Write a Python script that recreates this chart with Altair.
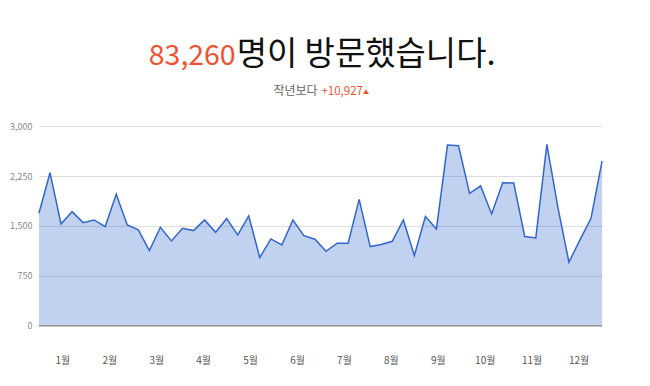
import altair as alt
import pandas as pd

visits = [1690, 2300, 1530, 1715, 1550, 1590, 1490, 1975, 1515, 1440,
          1130, 1480, 1275, 1465, 1430, 1590, 1405, 1610, 1365, 1650,
          1025, 1305, 1215, 1590, 1355, 1300, 1120, 1240, 1240, 1900,
          1190, 1220, 1270, 1590, 1055, 1640, 1455, 2715, 2705, 1990,
          2100, 1680, 2150, 2145, 1340, 1320, 2725, 1780, 955, 1290,
          1615, 2475]
months = ["1월", "2월", "3월", "4월", "5월", "6월", "7월", "8월", "9월", "10월", "11월", "12월"]
y_ticks = [0, 750, 1500, 2250, 3000]
total_text = "83,260"
title_rest = "명이 방문했습니다."
sub_label = "작년보다"
sub_delta = "+10,927"

FONT = "Noto Sans CJK KR"
RED = "#f0512f"
n = len(visits)
df = pd.DataFrame({"week": list(range(n)), "visits": visits})

span = n - 1
month_pos = [(i + 0.5) * span / len(months) for i in range(len(months))]
label_expr = "[" + ",".join("'%s'" % m for m in months) + "][round(datum.value*%d/%d-0.5)]" % (len(months), span)

x = alt.X("week:Q", scale=alt.Scale(domain=[0, span], nice=False, zero=False),
          axis=alt.Axis(values=month_pos, labelExpr=label_expr, title=None, grid=False,
                        ticks=False, domain=False, labelFont=FONT, labelFontSize=10,
                        labelColor="#555555", labelPadding=30))
y = alt.Y("visits:Q", scale=alt.Scale(domain=[0, 3000], nice=False),
          axis=alt.Axis(values=y_ticks, format=",d", title=None, ticks=False, domain=False,
                        gridColor="#dddddd", labelFont=FONT, labelFontSize=9,
                        labelColor="#888888", labelPadding=7))

area = alt.Chart(df).mark_area(color="#3366cc", opacity=0.3).encode(x=x, y=y)
line = alt.Chart(df).mark_line(color="#3366cc", strokeWidth=1.5).encode(x="week:Q", y="visits:Q")
base_rule = alt.Chart(pd.DataFrame({"v": [0]})).mark_rule(color="#999999", strokeWidth=1.5).encode(y="v:Q")

title_df = pd.DataFrame({"a": [total_text], "b": [title_rest], "c": [sub_label], "d": [sub_delta], "e": ["▲"]})
t1 = alt.Chart(title_df).mark_text(font=FONT, fontSize=28.5, color=RED, align="right", baseline="alphabetic").encode(
    text="a:N", x=alt.value(197), y=alt.value(-61))
t2 = alt.Chart(title_df).mark_text(font=FONT, fontSize=33, color="#111111", align="left", baseline="alphabetic").encode(
    text="b:N", x=alt.value(198), y=alt.value(-61))
s1 = alt.Chart(title_df).mark_text(font=FONT, fontSize=12, color="#666666", align="right", baseline="alphabetic").encode(
    text="c:N", x=alt.value(279), y=alt.value(-31))
s2 = alt.Chart(title_df).mark_text(font=FONT, fontSize=11.5, color=RED, align="left", baseline="alphabetic").encode(
    text="d:N", x=alt.value(283), y=alt.value(-31))
s3 = alt.Chart(title_df).mark_text(font=FONT, fontSize=6, color=RED, align="left", baseline="alphabetic").encode(
    text="e:N", x=alt.value(324.5), y=alt.value(-32))

chart = alt.layer(area, line, base_rule, t1, t2, s1, s2, s3).properties(
    width=564, height=200,
    autosize=alt.AutoSizeParams(type="none"),
    padding={"left": 31, "top": 118, "right": 40, "bottom": 44},
).configure_view(stroke=None)

chart.save("out.html", embed_options={"renderer": "svg", "actions": False})
